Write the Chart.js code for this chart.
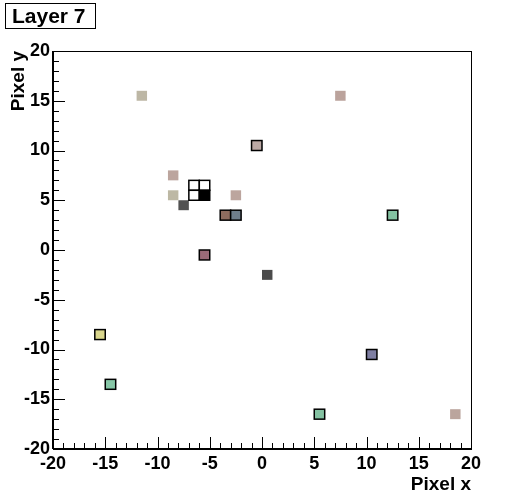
<!DOCTYPE html>
<html>
<head>
<meta charset="utf-8">
<script src="https://cdn.jsdelivr.net/npm/chart.js@4.4.0/dist/chart.umd.min.js"></script>
<style>
  html, body { margin: 0; padding: 0; background: #fff; }
</style>
</head>
<body>
<canvas id="layerChart" width="524" height="500"></canvas>
<script>
// bins are 1 pixel wide, values are the bin centres
// cells drawn with plain colour (no outline)
var colX = [-11.5, 7.5, -8.5, -8.5, -7.5, -2.5, 0.5, 18.5];
var colY = [15.5, 15.5, 7.5, 5.5, 4.5, 5.5, -2.5, -16.5];
var colColors = ['#bdb7a5', '#bba39c', '#bca59e', '#bdb8a4', '#525252', '#bca59e', '#4b4b4b', '#bba59d'];

// cells drawn with an outline
var boxX = [-0.5, -6.5, -5.5, -6.5, -5.5, -3.5, -2.5, 12.5, -5.5, -15.5, -14.5, 10.5, 5.5];
var boxY = [10.5, 6.5, 6.5, 5.5, 5.5, 3.5, 3.5, 3.5, -0.5, -8.5, -13.5, -10.5, -16.5];
var boxColors = ['#bba8a4', '#ffffff', '#ffffff', '#ffffff', '#000000', '#8e6c5e', '#6f7f8c', '#84c2a2',
                 '#9a6a78', '#d9d68c', '#86c6a6', '#7e7ea2', '#84c2a2'];

var axisMin = -20;
var axisMax = 20;
var titleText = 'Layer 7';

function toPoints(xs, ys) {
  var pts = [];
  for (var i = 0; i < xs.length; i++) {
    pts.push({ x: xs[i], y: ys[i] });
  }
  return pts;
}

var fontFamily = '"Liberation Sans", Arial, Helvetica, sans-serif';

var cellPlugin = {
  id: 'cells',
  afterDatasetsDraw: function(chart) {
    var ctx = chart.ctx;
    var xs = chart.scales.x, ys = chart.scales.y;
    ctx.save();
    chart.data.datasets.forEach(function(ds) {
      ds.data.forEach(function(p, i) {
        var x0 = xs.getPixelForValue(p.x - 0.5), x1 = xs.getPixelForValue(p.x + 0.5);
        var y0 = ys.getPixelForValue(p.y + 0.5), y1 = ys.getPixelForValue(p.y - 0.5);
        ctx.fillStyle = ds.backgroundColor[i];
        ctx.fillRect(x0, y0, x1 - x0, y1 - y0);
        if (ds.cellOutline) {
          ctx.lineWidth = 1.5;
          ctx.strokeStyle = '#000';
          ctx.strokeRect(x0, y0, x1 - x0, y1 - y0);
        }
      });
    });
    ctx.restore();
  }
};

// frame, inward tick marks and the title box
var framePlugin = {
  id: 'frame',
  afterDraw: function(chart) {
    var ctx = chart.ctx;
    var a = chart.chartArea;
    var xs = chart.scales.x, ys = chart.scales.y;
    ctx.save();
    ctx.strokeStyle = '#000';
    ctx.lineWidth = 1;
    ctx.strokeRect(Math.round(a.left) + 0.5, Math.round(a.top) + 0.5,
                   Math.round(a.right - a.left), Math.round(a.bottom - a.top));

    ctx.beginPath();
    xs.ticks.forEach(function(t) {
      var px = Math.round(xs.getPixelForValue(t.value)) + 0.5;
      var len = (t.value % 5 === 0) ? 12 : 6;
      ctx.moveTo(px, a.bottom);
      ctx.lineTo(px, a.bottom - len);
    });
    ys.ticks.forEach(function(t) {
      var py = Math.round(ys.getPixelForValue(t.value)) + 0.5;
      var len = (t.value % 5 === 0) ? 12 : 6;
      ctx.moveTo(a.left, py);
      ctx.lineTo(a.left + len, py);
    });
    ctx.stroke();

    // axis lines a bit heavier
    ctx.lineWidth = 2;
    ctx.beginPath();
    ctx.moveTo(a.left, a.bottom);
    ctx.lineTo(a.right + 1, a.bottom);
    ctx.moveTo(a.left, a.top);
    ctx.lineTo(a.left, a.bottom);
    ctx.stroke();

    // title box
    ctx.lineWidth = 1;
    ctx.strokeRect(5.5, 3.5, 90, 25);
    ctx.fillStyle = '#000';
    ctx.font = 'bold 21px ' + fontFamily;
    ctx.textBaseline = 'alphabetic';
    ctx.textAlign = 'left';
    ctx.fillText(titleText, 12, 23);
    ctx.restore();
  }
};

var tickFont = { family: fontFamily, weight: 'bold', size: 18 };

var chart = new Chart(document.getElementById('layerChart').getContext('2d'), {
  type: 'scatter',
  data: {
    datasets: [
      { label: 'col', data: toPoints(colX, colY), backgroundColor: colColors, cellOutline: false, pointRadius: 0 },
      { label: 'box', data: toPoints(boxX, boxY), backgroundColor: boxColors, cellOutline: true, pointRadius: 0 }
    ]
  },
  options: {
    responsive: false,
    animation: false,
    layout: { padding: { top: 51, right: 53, left: 0, bottom: 0 } },
    plugins: {
      legend: { display: false },
      tooltip: { enabled: false }
    },
    scales: {
      x: {
        type: 'linear',
        min: axisMin,
        max: axisMax,
        afterFit: function(s) { s.height = 51; },
        grid: { display: false, drawTicks: false },
        border: { display: false },
        ticks: {
          stepSize: 1,
          autoSkip: false,
          maxRotation: 0,
          padding: 4,
          color: '#000',
          font: tickFont,
          callback: function(v) { return v % 5 === 0 ? String(v) : ''; }
        },
        title: {
          display: true,
          text: 'Pixel x',
          align: 'end',
          color: '#000',
          font: { family: fontFamily, weight: 'bold', size: 19 },
          padding: { top: 0, bottom: 4 }
        }
      },
      y: {
        type: 'linear',
        min: axisMin,
        max: axisMax,
        afterFit: function(s) { s.width = 53; },
        grid: { display: false, drawTicks: false },
        border: { display: false },
        ticks: {
          stepSize: 1,
          autoSkip: false,
          padding: 3,
          color: '#000',
          font: tickFont,
          callback: function(v) { return v % 5 === 0 ? String(v) : ''; }
        },
        title: {
          display: true,
          text: 'Pixel y',
          align: 'end',
          color: '#000',
          font: { family: fontFamily, weight: 'bold', size: 19 },
          padding: { top: 7, bottom: 0 }
        }
      }
    }
  },
  plugins: [cellPlugin, framePlugin]
});
</script>
</body>
</html>
